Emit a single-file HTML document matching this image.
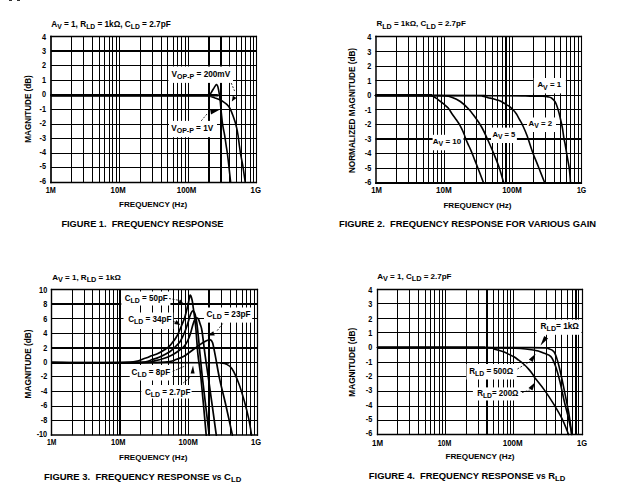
<!DOCTYPE html>
<html><head><meta charset="utf-8"><style>
html,body{margin:0;padding:0;background:#fff;}
svg{display:block;}
text{font-family:'Liberation Sans', Arial, sans-serif;fill:#000;}
</style></head><body>
<svg width="620" height="496" viewBox="0 0 620 496">
<rect width="620" height="496" fill="#fff"/>
<rect x="9" y="0" width="3" height="1" fill="#333"/><rect x="17" y="0" width="3" height="1" fill="#333"/>
<line x1="71.5" y1="36.4" x2="71.5" y2="182.3" stroke="#000" stroke-width="1.0"/>
<line x1="83.5" y1="36.4" x2="83.5" y2="182.3" stroke="#000" stroke-width="1.0"/>
<line x1="92.5" y1="36.4" x2="92.5" y2="182.3" stroke="#000" stroke-width="1.0"/>
<line x1="99.5" y1="36.4" x2="99.5" y2="182.3" stroke="#000" stroke-width="1.0"/>
<line x1="104.5" y1="36.4" x2="104.5" y2="182.3" stroke="#000" stroke-width="1.0"/>
<line x1="109.5" y1="36.4" x2="109.5" y2="182.3" stroke="#000" stroke-width="1.0"/>
<line x1="112.5" y1="36.4" x2="112.5" y2="182.3" stroke="#000" stroke-width="1.0"/>
<line x1="116.5" y1="36.4" x2="116.5" y2="182.3" stroke="#000" stroke-width="1.0"/>
<line x1="119.5" y1="36.4" x2="119.5" y2="182.3" stroke="#000" stroke-width="1.0"/>
<line x1="140.5" y1="36.4" x2="140.5" y2="182.3" stroke="#000" stroke-width="1.0"/>
<line x1="152.5" y1="36.4" x2="152.5" y2="182.3" stroke="#000" stroke-width="1.0"/>
<line x1="161.5" y1="36.4" x2="161.5" y2="182.3" stroke="#000" stroke-width="1.0"/>
<line x1="167.5" y1="36.4" x2="167.5" y2="182.3" stroke="#000" stroke-width="1.0"/>
<line x1="173.5" y1="36.4" x2="173.5" y2="182.3" stroke="#000" stroke-width="1.0"/>
<line x1="177.5" y1="36.4" x2="177.5" y2="182.3" stroke="#000" stroke-width="1.0"/>
<line x1="181.5" y1="36.4" x2="181.5" y2="182.3" stroke="#000" stroke-width="1.0"/>
<line x1="185.5" y1="36.4" x2="185.5" y2="182.3" stroke="#000" stroke-width="1.0"/>
<line x1="188.5" y1="36.4" x2="188.5" y2="182.3" stroke="#000" stroke-width="1.0"/>
<line x1="209" y1="36.4" x2="209" y2="182.3" stroke="#000" stroke-width="2.0"/>
<line x1="221" y1="36.4" x2="221" y2="182.3" stroke="#000" stroke-width="2.0"/>
<line x1="229.5" y1="36.4" x2="229.5" y2="182.3" stroke="#000" stroke-width="1.0"/>
<line x1="236.5" y1="36.4" x2="236.5" y2="182.3" stroke="#000" stroke-width="1.0"/>
<line x1="241.5" y1="36.4" x2="241.5" y2="182.3" stroke="#000" stroke-width="1.0"/>
<line x1="245.5" y1="36.4" x2="245.5" y2="182.3" stroke="#000" stroke-width="1.0"/>
<line x1="250.5" y1="36.4" x2="250.5" y2="182.3" stroke="#000" stroke-width="1.0"/>
<line x1="253.5" y1="36.4" x2="253.5" y2="182.3" stroke="#000" stroke-width="1.0"/>
<line x1="50.9" y1="51" x2="256.2" y2="51" stroke="#000" stroke-width="2.0"/>
<line x1="50.9" y1="65.5" x2="256.2" y2="65.5" stroke="#000" stroke-width="1.0"/>
<line x1="50.9" y1="80.5" x2="256.2" y2="80.5" stroke="#000" stroke-width="1.0"/>
<line x1="50.9" y1="95.5" x2="256.2" y2="95.5" stroke="#000" stroke-width="1.0"/>
<line x1="50.9" y1="109.5" x2="256.2" y2="109.5" stroke="#000" stroke-width="1.0"/>
<line x1="50.9" y1="124.5" x2="256.2" y2="124.5" stroke="#000" stroke-width="1.0"/>
<line x1="50.9" y1="138.5" x2="256.2" y2="138.5" stroke="#000" stroke-width="1.0"/>
<line x1="50.9" y1="153.5" x2="256.2" y2="153.5" stroke="#000" stroke-width="1.0"/>
<line x1="50.9" y1="167.5" x2="256.2" y2="167.5" stroke="#000" stroke-width="1.0"/>
<line x1="51" y1="35.85" x2="51" y2="183.15" stroke="#000" stroke-width="1.7"/>
<line x1="256.5" y1="35.85" x2="256.5" y2="183.15" stroke="#000" stroke-width="1.1"/>
<line x1="50.15" y1="36.5" x2="257.05" y2="36.5" stroke="#000" stroke-width="1.3"/>
<line x1="50.15" y1="182.5" x2="257.05" y2="182.5" stroke="#000" stroke-width="1.3"/>
<text x="41.94" y="39.6" font-size="8.3" text-anchor="start" font-weight="bold" textLength="4.06" lengthAdjust="spacingAndGlyphs">4</text>
<text x="41.94" y="54.02" font-size="8.3" text-anchor="start" font-weight="bold" textLength="4.06" lengthAdjust="spacingAndGlyphs">3</text>
<text x="41.94" y="68.44" font-size="8.3" text-anchor="start" font-weight="bold" textLength="4.06" lengthAdjust="spacingAndGlyphs">2</text>
<text x="41.94" y="82.86" font-size="8.3" text-anchor="start" font-weight="bold" textLength="4.06" lengthAdjust="spacingAndGlyphs">1</text>
<text x="41.94" y="97.28" font-size="8.3" text-anchor="start" font-weight="bold" textLength="4.06" lengthAdjust="spacingAndGlyphs">0</text>
<text x="39.51" y="111.7" font-size="8.3" text-anchor="start" font-weight="bold" textLength="6.49" lengthAdjust="spacingAndGlyphs">-1</text>
<text x="39.51" y="126.12" font-size="8.3" text-anchor="start" font-weight="bold" textLength="6.49" lengthAdjust="spacingAndGlyphs">-2</text>
<text x="39.51" y="140.54" font-size="8.3" text-anchor="start" font-weight="bold" textLength="6.49" lengthAdjust="spacingAndGlyphs">-3</text>
<text x="39.51" y="154.96" font-size="8.3" text-anchor="start" font-weight="bold" textLength="6.49" lengthAdjust="spacingAndGlyphs">-4</text>
<text x="39.51" y="169.38" font-size="8.3" text-anchor="start" font-weight="bold" textLength="6.49" lengthAdjust="spacingAndGlyphs">-5</text>
<text x="39.51" y="183.8" font-size="8.3" text-anchor="start" font-weight="bold" textLength="6.49" lengthAdjust="spacingAndGlyphs">-6</text>
<text x="0" y="0" font-size="8.6" text-anchor="middle" font-weight="bold" textLength="67.4" lengthAdjust="spacingAndGlyphs" transform="translate(31.3,109) rotate(-90)">MAGNITUDE (dB)</text>
<line x1="50.9" y1="95.35" x2="209" y2="95.35" stroke="#000" stroke-width="2.7"/>
<path d="M50.9,94.9 C76.58,94.9 178.57,94.95 205,94.9 C231.43,94.85 208.33,95.22 209.5,94.6 C210.67,93.98 211.22,92.37 212,91.2 C212.78,90.03 213.47,88.72 214.2,87.6 C214.93,86.48 215.82,84.73 216.4,84.5 C216.98,84.27 217.33,85.28 217.7,86.2 C218.07,87.12 218.3,88.45 218.6,90 C218.9,91.55 219.22,93.5 219.5,95.5 C219.78,97.5 220.07,99.82 220.3,102 C220.53,104.18 220.68,106.35 220.9,108.6 C221.12,110.85 221.37,113.23 221.6,115.5 C221.83,117.77 222.02,120.03 222.3,122.2 C222.58,124.37 222.92,126.37 223.3,128.5 C223.68,130.63 224.13,132.23 224.6,135 C225.07,137.77 225.6,141.73 226.1,145.1 C226.6,148.47 227.1,151.33 227.6,155.2 C228.1,159.07 228.6,163.83 229.1,168.3 C229.6,172.77 230.35,179.72 230.6,182" fill="none" stroke="#000" stroke-width="1.6" stroke-linejoin="round" stroke-linecap="round"/>
<path d="M50.9,95.5 C76.58,95.5 178.48,95.38 205,95.5 C231.52,95.62 208.33,95.8 210,96.2 C211.67,96.6 213.27,97.27 215,97.9 C216.73,98.53 218.88,99.27 220.4,100 C221.92,100.73 223.03,101.58 224.1,102.3 C225.17,103.02 225.97,103.52 226.8,104.3 C227.63,105.08 228.35,105.83 229.1,107 C229.85,108.17 230.63,109.82 231.3,111.3 C231.97,112.78 232.5,114.23 233.1,115.9 C233.7,117.57 234.32,119.35 234.9,121.3 C235.48,123.25 236.08,125.32 236.6,127.6 C237.12,129.88 237.55,132.1 238,135 C238.45,137.9 238.83,141.63 239.3,145 C239.77,148.37 240.23,151.83 240.8,155.2 C241.37,158.57 241.97,160.73 242.7,165.2 C243.43,169.67 244.78,179.2 245.2,182" fill="none" stroke="#000" stroke-width="1.6" stroke-linejoin="round" stroke-linecap="round"/>
<rect x="168.4" y="66.5" width="64.6" height="16.4" fill="#fff"/>
<rect x="169" y="120.9" width="48" height="16.3" fill="#fff"/>
<line x1="231.2" y1="83" x2="234.6" y2="91" stroke="#000" stroke-width="0.8" stroke-dasharray="2,1.5"/>
<path d="M231.8,101.5 L232.82,95.66 L236.56,97.98 Z" fill="#000"/>
<line x1="201.2" y1="120.9" x2="207.4" y2="113.5" stroke="#000" stroke-width="0.8" stroke-dasharray="2,1.5"/>
<path d="M210.2,109.6 L220,109.6 L211,114.6 Z" fill="#000"/>
<line x1="396.5" y1="36.5" x2="396.5" y2="182.7" stroke="#000" stroke-width="1.0"/>
<line x1="408.5" y1="36.5" x2="408.5" y2="182.7" stroke="#000" stroke-width="1.0"/>
<line x1="416.5" y1="36.5" x2="416.5" y2="182.7" stroke="#000" stroke-width="1.0"/>
<line x1="423.5" y1="36.5" x2="423.5" y2="182.7" stroke="#000" stroke-width="1.0"/>
<line x1="428.5" y1="36.5" x2="428.5" y2="182.7" stroke="#000" stroke-width="1.0"/>
<line x1="433.5" y1="36.5" x2="433.5" y2="182.7" stroke="#000" stroke-width="1.0"/>
<line x1="437.5" y1="36.5" x2="437.5" y2="182.7" stroke="#000" stroke-width="1.0"/>
<line x1="441.5" y1="36.5" x2="441.5" y2="182.7" stroke="#000" stroke-width="1.0"/>
<line x1="444.5" y1="36.5" x2="444.5" y2="182.7" stroke="#000" stroke-width="1.0"/>
<line x1="464.5" y1="36.5" x2="464.5" y2="182.7" stroke="#000" stroke-width="1.0"/>
<line x1="476.5" y1="36.5" x2="476.5" y2="182.7" stroke="#000" stroke-width="1.0"/>
<line x1="485.5" y1="36.5" x2="485.5" y2="182.7" stroke="#000" stroke-width="1.0"/>
<line x1="492.5" y1="36.5" x2="492.5" y2="182.7" stroke="#000" stroke-width="1.0"/>
<line x1="497.5" y1="36.5" x2="497.5" y2="182.7" stroke="#000" stroke-width="1.0"/>
<line x1="502.5" y1="36.5" x2="502.5" y2="182.7" stroke="#000" stroke-width="1.0"/>
<line x1="506" y1="36.5" x2="506" y2="182.7" stroke="#000" stroke-width="2.0"/>
<line x1="509.5" y1="36.5" x2="509.5" y2="182.7" stroke="#000" stroke-width="1.0"/>
<line x1="512.5" y1="36.5" x2="512.5" y2="182.7" stroke="#000" stroke-width="1.0"/>
<line x1="533.5" y1="36.5" x2="533.5" y2="182.7" stroke="#000" stroke-width="1.0"/>
<line x1="545.5" y1="36.5" x2="545.5" y2="182.7" stroke="#000" stroke-width="1.0"/>
<line x1="554.5" y1="36.5" x2="554.5" y2="182.7" stroke="#000" stroke-width="1.0"/>
<line x1="560.5" y1="36.5" x2="560.5" y2="182.7" stroke="#000" stroke-width="1.0"/>
<line x1="566.5" y1="36.5" x2="566.5" y2="182.7" stroke="#000" stroke-width="1.0"/>
<line x1="570.5" y1="36.5" x2="570.5" y2="182.7" stroke="#000" stroke-width="1.0"/>
<line x1="574.5" y1="36.5" x2="574.5" y2="182.7" stroke="#000" stroke-width="1.0"/>
<line x1="578.5" y1="36.5" x2="578.5" y2="182.7" stroke="#000" stroke-width="1.0"/>
<line x1="375.5" y1="51.5" x2="581.5" y2="51.5" stroke="#000" stroke-width="1.0"/>
<line x1="375.5" y1="66.5" x2="581.5" y2="66.5" stroke="#000" stroke-width="1.0"/>
<line x1="375.5" y1="80.5" x2="581.5" y2="80.5" stroke="#000" stroke-width="1.0"/>
<line x1="375.5" y1="95.5" x2="581.5" y2="95.5" stroke="#000" stroke-width="1.0"/>
<line x1="375.5" y1="109.5" x2="581.5" y2="109.5" stroke="#000" stroke-width="1.0"/>
<line x1="375.5" y1="124.5" x2="581.5" y2="124.5" stroke="#000" stroke-width="1.0"/>
<line x1="375.5" y1="139" x2="581.5" y2="139" stroke="#000" stroke-width="2.0"/>
<line x1="375.5" y1="153.5" x2="581.5" y2="153.5" stroke="#000" stroke-width="1.0"/>
<line x1="375.5" y1="168.5" x2="581.5" y2="168.5" stroke="#000" stroke-width="1.0"/>
<line x1="376" y1="35.85" x2="376" y2="184" stroke="#000" stroke-width="1.5"/>
<line x1="581.5" y1="35.85" x2="581.5" y2="184" stroke="#000" stroke-width="1.1"/>
<line x1="375.25" y1="36.5" x2="582.05" y2="36.5" stroke="#000" stroke-width="1.3"/>
<line x1="375.25" y1="183" x2="582.05" y2="183" stroke="#000" stroke-width="2.0"/>
<text x="367.14" y="40.4" font-size="8.3" text-anchor="start" font-weight="bold" textLength="4.06" lengthAdjust="spacingAndGlyphs">4</text>
<text x="367.14" y="54.86" font-size="8.3" text-anchor="start" font-weight="bold" textLength="4.06" lengthAdjust="spacingAndGlyphs">3</text>
<text x="367.14" y="69.32" font-size="8.3" text-anchor="start" font-weight="bold" textLength="4.06" lengthAdjust="spacingAndGlyphs">2</text>
<text x="367.14" y="83.78" font-size="8.3" text-anchor="start" font-weight="bold" textLength="4.06" lengthAdjust="spacingAndGlyphs">1</text>
<text x="367.14" y="98.24" font-size="8.3" text-anchor="start" font-weight="bold" textLength="4.06" lengthAdjust="spacingAndGlyphs">0</text>
<text x="364.71" y="112.7" font-size="8.3" text-anchor="start" font-weight="bold" textLength="6.49" lengthAdjust="spacingAndGlyphs">-1</text>
<text x="364.71" y="127.16" font-size="8.3" text-anchor="start" font-weight="bold" textLength="6.49" lengthAdjust="spacingAndGlyphs">-2</text>
<text x="364.71" y="141.62" font-size="8.3" text-anchor="start" font-weight="bold" textLength="6.49" lengthAdjust="spacingAndGlyphs">-3</text>
<text x="364.71" y="156.08" font-size="8.3" text-anchor="start" font-weight="bold" textLength="6.49" lengthAdjust="spacingAndGlyphs">-4</text>
<text x="364.71" y="170.54" font-size="8.3" text-anchor="start" font-weight="bold" textLength="6.49" lengthAdjust="spacingAndGlyphs">-5</text>
<text x="364.71" y="185" font-size="8.3" text-anchor="start" font-weight="bold" textLength="6.49" lengthAdjust="spacingAndGlyphs">-6</text>
<text x="0" y="0" font-size="8.6" text-anchor="middle" font-weight="bold" textLength="125.2" lengthAdjust="spacingAndGlyphs" transform="translate(355.1,110.5) rotate(-90)">NORMALIZED MAGNITUDE (dB)</text>
<line x1="375.5" y1="95.2" x2="432" y2="95.2" stroke="#000" stroke-width="2.6"/>
<path d="M375.5,95.5 C383.75,95.5 415.7,95.45 425,95.5 C434.3,95.55 429.45,95.37 431.3,95.8 C433.15,96.23 434.62,97.18 436.1,98.1 C437.58,99.02 438.85,100.23 440.2,101.3 C441.55,102.37 442.87,103.37 444.2,104.5 C445.53,105.63 446.85,106.48 448.2,108.1 C449.55,109.72 450.92,112.22 452.3,114.2 C453.68,116.18 455.27,118.23 456.5,120 C457.73,121.77 458.63,122.92 459.7,124.8 C460.77,126.68 461.97,129.15 462.9,131.3 C463.83,133.45 464.5,135.68 465.3,137.7 C466.1,139.72 466.75,141.25 467.7,143.4 C468.65,145.55 469.92,148.05 471,150.6 C472.08,153.15 473.23,156.27 474.2,158.7 C475.17,161.13 475.83,162.73 476.8,165.2 C477.77,167.67 478.88,170.57 480,173.5 C481.12,176.43 482.92,181.21 483.5,182.75" fill="none" stroke="#000" stroke-width="1.6" stroke-linejoin="round" stroke-linecap="round"/>
<path d="M375.5,95.5 C384.58,95.5 418.55,95.45 430,95.5 C441.45,95.55 440.48,95.48 444.2,95.8 C447.92,96.12 449.62,96.45 452.3,97.4 C454.98,98.35 457.62,99.62 460.3,101.5 C462.98,103.38 465.98,106.15 468.4,108.7 C470.82,111.25 472.65,113.83 474.8,116.8 C476.95,119.77 479.35,123.13 481.3,126.5 C483.25,129.87 484.52,132.7 486.5,137 C488.48,141.3 491.13,147.33 493.2,152.3 C495.27,157.27 497.15,161.73 498.9,166.8 C500.65,171.88 502.9,180.09 503.7,182.75" fill="none" stroke="#000" stroke-width="1.6" stroke-linejoin="round" stroke-linecap="round"/>
<path d="M375.5,95.5 C392.08,95.5 457.18,95.4 475,95.5 C492.82,95.6 480.22,95.73 482.4,96.1 C484.58,96.47 486.48,97.3 488.1,97.7 C489.72,98.1 490.77,98.17 492.1,98.5 C493.43,98.83 494.75,99.3 496.1,99.7 C497.45,100.1 498.85,100.3 500.2,100.9 C501.55,101.5 502.87,102.5 504.2,103.3 C505.53,104.1 506.85,104.75 508.2,105.7 C509.55,106.65 510.95,107.65 512.3,109 C513.65,110.35 515.1,112.05 516.3,113.8 C517.5,115.55 518.42,117.53 519.5,119.5 C520.58,121.47 521.55,122.93 522.8,125.6 C524.05,128.27 525.35,131.03 527,135.5 C528.65,139.97 530.82,147.23 532.7,152.4 C534.58,157.57 536.3,161.44 538.3,166.5 C540.3,171.56 543.63,180.04 544.7,182.75" fill="none" stroke="#000" stroke-width="1.6" stroke-linejoin="round" stroke-linecap="round"/>
<path d="M375.5,95.5 C396.25,95.53 474.25,95.6 500,95.7 C525.75,95.8 522.83,96 530,96.1 C537.17,96.2 540.02,96.17 543,96.3 C545.98,96.43 546.48,96.62 547.9,96.9 C549.32,97.18 550.28,97.17 551.5,98 C552.72,98.83 554.12,100.03 555.2,101.9 C556.28,103.77 557.17,106.53 558,109.2 C558.83,111.87 559.47,114.77 560.2,117.9 C560.93,121.03 561.78,124.62 562.4,128 C563.02,131.38 563.45,135.53 563.9,138.2 C564.35,140.87 564.55,140.92 565.1,144 C565.65,147.08 566.48,152.47 567.2,156.7 C567.92,160.93 568.85,165.06 569.4,169.4 C569.95,173.74 570.32,180.53 570.5,182.75" fill="none" stroke="#000" stroke-width="1.6" stroke-linejoin="round" stroke-linecap="round"/>
<rect x="533.8" y="78" width="32" height="15.4" fill="#fff"/>
<rect x="527" y="117.5" width="29" height="14.5" fill="#fff"/>
<rect x="491" y="127.6" width="25.9" height="15.4" fill="#fff"/>
<rect x="432.6" y="134.8" width="30.9" height="15.5" fill="#fff"/>
<line x1="72.5" y1="289.3" x2="72.5" y2="435.1" stroke="#000" stroke-width="1.0"/>
<line x1="84.5" y1="289.3" x2="84.5" y2="435.1" stroke="#000" stroke-width="1.0"/>
<line x1="92.5" y1="289.3" x2="92.5" y2="435.1" stroke="#000" stroke-width="1.0"/>
<line x1="99.5" y1="289.3" x2="99.5" y2="435.1" stroke="#000" stroke-width="1.0"/>
<line x1="105.5" y1="289.3" x2="105.5" y2="435.1" stroke="#000" stroke-width="1.0"/>
<line x1="109.5" y1="289.3" x2="109.5" y2="435.1" stroke="#000" stroke-width="1.0"/>
<line x1="113.5" y1="289.3" x2="113.5" y2="435.1" stroke="#000" stroke-width="1.0"/>
<line x1="117.5" y1="289.3" x2="117.5" y2="435.1" stroke="#000" stroke-width="1.0"/>
<line x1="120" y1="289.3" x2="120" y2="435.1" stroke="#000" stroke-width="2.0"/>
<line x1="140.5" y1="289.3" x2="140.5" y2="435.1" stroke="#000" stroke-width="1.0"/>
<line x1="152.5" y1="289.3" x2="152.5" y2="435.1" stroke="#000" stroke-width="1.0"/>
<line x1="161.5" y1="289.3" x2="161.5" y2="435.1" stroke="#000" stroke-width="1.0"/>
<line x1="168.5" y1="289.3" x2="168.5" y2="435.1" stroke="#000" stroke-width="1.0"/>
<line x1="173.5" y1="289.3" x2="173.5" y2="435.1" stroke="#000" stroke-width="1.0"/>
<line x1="178.5" y1="289.3" x2="178.5" y2="435.1" stroke="#000" stroke-width="1.0"/>
<line x1="181.5" y1="289.3" x2="181.5" y2="435.1" stroke="#000" stroke-width="1.0"/>
<line x1="185.5" y1="289.3" x2="185.5" y2="435.1" stroke="#000" stroke-width="1.0"/>
<line x1="188.5" y1="289.3" x2="188.5" y2="435.1" stroke="#000" stroke-width="1.0"/>
<line x1="209" y1="289.3" x2="209" y2="435.1" stroke="#000" stroke-width="2.0"/>
<line x1="221.5" y1="289.3" x2="221.5" y2="435.1" stroke="#000" stroke-width="1.0"/>
<line x1="230.5" y1="289.3" x2="230.5" y2="435.1" stroke="#000" stroke-width="1.0"/>
<line x1="236.5" y1="289.3" x2="236.5" y2="435.1" stroke="#000" stroke-width="1.0"/>
<line x1="242.5" y1="289.3" x2="242.5" y2="435.1" stroke="#000" stroke-width="1.0"/>
<line x1="246.5" y1="289.3" x2="246.5" y2="435.1" stroke="#000" stroke-width="1.0"/>
<line x1="250.5" y1="289.3" x2="250.5" y2="435.1" stroke="#000" stroke-width="1.0"/>
<line x1="254.5" y1="289.3" x2="254.5" y2="435.1" stroke="#000" stroke-width="1.0"/>
<line x1="51.6" y1="304" x2="257.1" y2="304" stroke="#000" stroke-width="2.0"/>
<line x1="51.6" y1="318.5" x2="257.1" y2="318.5" stroke="#000" stroke-width="1.0"/>
<line x1="51.6" y1="333.5" x2="257.1" y2="333.5" stroke="#000" stroke-width="1.0"/>
<line x1="51.6" y1="348" x2="257.1" y2="348" stroke="#000" stroke-width="2.0"/>
<line x1="51.6" y1="362.5" x2="257.1" y2="362.5" stroke="#000" stroke-width="1.0"/>
<line x1="51.6" y1="376.5" x2="257.1" y2="376.5" stroke="#000" stroke-width="1.0"/>
<line x1="51.6" y1="391.5" x2="257.1" y2="391.5" stroke="#000" stroke-width="1.0"/>
<line x1="51.6" y1="406.5" x2="257.1" y2="406.5" stroke="#000" stroke-width="1.0"/>
<line x1="51.6" y1="420.5" x2="257.1" y2="420.5" stroke="#000" stroke-width="1.0"/>
<line x1="51.5" y1="288.85" x2="51.5" y2="435.75" stroke="#000" stroke-width="1.4"/>
<line x1="257.5" y1="288.85" x2="257.5" y2="435.75" stroke="#000" stroke-width="1.2"/>
<line x1="50.8" y1="289.5" x2="258.1" y2="289.5" stroke="#000" stroke-width="1.3"/>
<line x1="50.8" y1="435" x2="258.1" y2="435" stroke="#000" stroke-width="1.5"/>
<text x="39.08" y="292.8" font-size="8.3" text-anchor="start" font-weight="bold" textLength="8.12" lengthAdjust="spacingAndGlyphs">10</text>
<text x="43.14" y="307.23" font-size="8.3" text-anchor="start" font-weight="bold" textLength="4.06" lengthAdjust="spacingAndGlyphs">8</text>
<text x="43.14" y="321.66" font-size="8.3" text-anchor="start" font-weight="bold" textLength="4.06" lengthAdjust="spacingAndGlyphs">6</text>
<text x="43.14" y="336.09" font-size="8.3" text-anchor="start" font-weight="bold" textLength="4.06" lengthAdjust="spacingAndGlyphs">4</text>
<text x="43.14" y="350.52" font-size="8.3" text-anchor="start" font-weight="bold" textLength="4.06" lengthAdjust="spacingAndGlyphs">2</text>
<text x="43.14" y="364.95" font-size="8.3" text-anchor="start" font-weight="bold" textLength="4.06" lengthAdjust="spacingAndGlyphs">0</text>
<text x="40.71" y="379.38" font-size="8.3" text-anchor="start" font-weight="bold" textLength="6.49" lengthAdjust="spacingAndGlyphs">-2</text>
<text x="40.71" y="393.81" font-size="8.3" text-anchor="start" font-weight="bold" textLength="6.49" lengthAdjust="spacingAndGlyphs">-4</text>
<text x="40.71" y="408.24" font-size="8.3" text-anchor="start" font-weight="bold" textLength="6.49" lengthAdjust="spacingAndGlyphs">-6</text>
<text x="40.71" y="422.67" font-size="8.3" text-anchor="start" font-weight="bold" textLength="6.49" lengthAdjust="spacingAndGlyphs">-8</text>
<text x="36.64" y="437.1" font-size="8.3" text-anchor="start" font-weight="bold" textLength="10.56" lengthAdjust="spacingAndGlyphs">-10</text>
<text x="0" y="0" font-size="8.6" text-anchor="middle" font-weight="bold" textLength="69" lengthAdjust="spacingAndGlyphs" transform="translate(31.4,363.9) rotate(-90)">MAGNITUDE (dB)</text>
<line x1="51.6" y1="362.7" x2="140" y2="362.7" stroke="#000" stroke-width="2.1"/>
<path d="M51.8,362.7 C79,362.7 186.8,362.62 215,362.7 C243.2,362.78 219.17,362.98 221,363.2 C222.83,363.42 224.17,363.07 226,364 C227.83,364.93 229.88,365.6 232,368.8 C234.12,372 236.65,377.83 238.7,383.2 C240.75,388.57 242.63,395.08 244.3,401 C245.97,406.92 247.48,413.02 248.7,418.7 C249.92,424.38 251.12,432.37 251.6,435.1" fill="none" stroke="#000" stroke-width="1.6" stroke-linejoin="round" stroke-linecap="round"/>
<path d="M51.8,362.7 C68.17,362.7 130.38,362.9 150,362.7 C169.62,362.5 165.17,362.03 169.5,361.5 C173.83,360.97 173.85,360.27 176,359.5 C178.15,358.73 180.82,357.62 182.4,356.9 C183.98,356.18 184.23,356.02 185.5,355.2 C186.77,354.38 188.42,353.17 190,352 C191.58,350.83 193.33,349.43 195,348.2 C196.67,346.97 198.33,345.72 200,344.6 C201.67,343.48 203.35,342.33 205,341.5 C206.65,340.67 208.65,339.43 209.9,339.6 C211.15,339.77 211.62,339.9 212.5,342.5 C213.38,345.1 214,349.05 215.2,355.2 C216.4,361.35 217.93,371.1 219.7,379.4 C221.47,387.7 223.68,395.72 225.8,405 C227.92,414.28 231.3,430.08 232.4,435.1" fill="none" stroke="#000" stroke-width="1.7" stroke-linejoin="round" stroke-linecap="round"/>
<path d="M51.8,362.7 C66.5,362.7 122.85,363.02 140,362.7 C157.15,362.38 150.63,361.53 154.7,360.8 C158.77,360.07 161.5,359.27 164.4,358.3 C167.3,357.33 169.95,356.08 172.1,355 C174.25,353.92 175.58,352.98 177.3,351.8 C179.02,350.62 181.08,349.03 182.4,347.9 C183.72,346.77 184.27,346.32 185.2,345 C186.13,343.68 187.12,341.92 188,340 C188.88,338.08 189.7,336 190.5,333.5 C191.3,331 192.08,327.33 192.8,325 C193.52,322.67 194.13,320.7 194.8,319.5 C195.47,318.3 196.17,317.8 196.8,317.8 C197.43,317.8 198.02,318.38 198.6,319.5 C199.18,320.62 199.73,322.58 200.3,324.5 C200.87,326.42 201.2,325.88 202,331 C202.8,336.12 204,347.13 205.1,355.2 C206.2,363.27 206.73,366.08 208.6,379.4 C210.47,392.72 215.02,425.82 216.3,435.1" fill="none" stroke="#000" stroke-width="1.7" stroke-linejoin="round" stroke-linecap="round"/>
<path d="M51.8,362.7 C65.67,362.7 118.18,363.25 135,362.7 C151.82,362.15 148.35,360.45 152.7,359.4 C157.05,358.35 158.62,357.45 161.1,356.4 C163.58,355.35 165.77,354.2 167.6,353.1 C169.43,352 170.7,350.98 172.1,349.8 C173.5,348.62 174.72,347.28 176,346 C177.28,344.72 178.63,343.77 179.8,342.1 C180.97,340.43 182.05,338.02 183,336 C183.95,333.98 184.63,332.33 185.5,330 C186.37,327.67 187.4,324.5 188.2,322 C189,319.5 189.67,316.75 190.3,315 C190.93,313.25 191.47,312.13 192,311.5 C192.53,310.87 193,310.78 193.5,311.2 C194,311.62 194.5,312.37 195,314 C195.5,315.63 195.95,317.33 196.5,321 C197.05,324.67 197.7,330.3 198.3,336 C198.9,341.7 199.38,347.97 200.1,355.2 C200.82,362.43 201.08,366.08 202.6,379.4 C204.12,392.72 208.1,425.82 209.2,435.1" fill="none" stroke="#000" stroke-width="1.7" stroke-linejoin="round" stroke-linecap="round"/>
<path d="M51.8,362.7 C64,362.7 109.47,363.43 125,362.7 C140.53,361.97 140.58,359.45 145,358.3 C149.42,357.15 149.35,356.58 151.5,355.8 C153.65,355.02 155.75,354.6 157.9,353.6 C160.05,352.6 162.57,350.97 164.4,349.8 C166.23,348.63 167.53,347.85 168.9,346.6 C170.27,345.35 171.45,343.73 172.6,342.3 C173.75,340.87 174.85,339.48 175.8,338 C176.75,336.52 177.3,335.57 178.3,333.4 C179.3,331.23 180.78,327.47 181.8,325 C182.82,322.53 183.58,321.1 184.4,318.6 C185.22,316.1 186.02,312.68 186.7,310 C187.38,307.32 187.93,304.97 188.5,302.5 C189.07,300.03 189.5,295.62 190.1,295.2 C190.7,294.78 191.57,297.85 192.1,300 C192.63,302.15 192.87,305.1 193.3,308.1 C193.73,311.1 194.25,314.35 194.7,318 C195.15,321.65 195.45,323.8 196,330 C196.55,336.2 197.15,346.97 198,355.2 C198.85,363.43 199.73,366.08 201.1,379.4 C202.47,392.72 205.35,425.82 206.2,435.1" fill="none" stroke="#000" stroke-width="1.7" stroke-linejoin="round" stroke-linecap="round"/>
<rect x="121.3" y="291.5" width="49.1" height="14" fill="#fff"/>
<rect x="123.5" y="312.5" width="49.7" height="16.5" fill="#fff"/>
<rect x="204" y="307.5" width="48.2" height="15.1" fill="#fff"/>
<rect x="129.7" y="365" width="42.6" height="15.5" fill="#fff"/>
<rect x="141.3" y="385" width="50.3" height="13.5" fill="#fff"/>
<line x1="169" y1="298.5" x2="180" y2="300.5" stroke="#000" stroke-width="0.8" stroke-dasharray="2,1.5"/>
<path d="M184,305 L177.96,302.9 L180.75,299.5 Z" fill="#000"/>
<line x1="173" y1="321.5" x2="176.5" y2="322.5" stroke="#000" stroke-width="0.8" stroke-dasharray="2,1.5"/>
<path d="M180.5,325 L174.21,323.88 L176.43,320.08 Z" fill="#000"/>
<line x1="222.7" y1="323.5" x2="216.5" y2="331.5" stroke="#000" stroke-width="0.8" stroke-dasharray="2,1.5"/>
<path d="M207.4,335.6 L213.27,331.15 L214.77,335.5 Z" fill="#000"/>
<line x1="172.7" y1="371.3" x2="185" y2="366" stroke="#000" stroke-width="0.8" stroke-dasharray="2,1.5"/>
<line x1="183.1" y1="383.1" x2="190.5" y2="377" stroke="#000" stroke-width="0.8" stroke-dasharray="2,1.5"/>
<path d="M193,365.5 L194.58,373.59 L190.58,373.38 Z" fill="#000"/>
<line x1="397.5" y1="289.3" x2="397.5" y2="434.4" stroke="#000" stroke-width="1.0"/>
<line x1="409.5" y1="289.3" x2="409.5" y2="434.4" stroke="#000" stroke-width="1.0"/>
<line x1="418.5" y1="289.3" x2="418.5" y2="434.4" stroke="#000" stroke-width="1.0"/>
<line x1="425.5" y1="289.3" x2="425.5" y2="434.4" stroke="#000" stroke-width="1.0"/>
<line x1="430.5" y1="289.3" x2="430.5" y2="434.4" stroke="#000" stroke-width="1.0"/>
<line x1="434.5" y1="289.3" x2="434.5" y2="434.4" stroke="#000" stroke-width="1.0"/>
<line x1="439.5" y1="289.3" x2="439.5" y2="434.4" stroke="#000" stroke-width="1.0"/>
<line x1="442.5" y1="289.3" x2="442.5" y2="434.4" stroke="#000" stroke-width="1.0"/>
<line x1="445.5" y1="289.3" x2="445.5" y2="434.4" stroke="#000" stroke-width="1.0"/>
<line x1="466.5" y1="289.3" x2="466.5" y2="434.4" stroke="#000" stroke-width="1.0"/>
<line x1="478.5" y1="289.3" x2="478.5" y2="434.4" stroke="#000" stroke-width="1.0"/>
<line x1="487" y1="289.3" x2="487" y2="434.4" stroke="#000" stroke-width="2.0"/>
<line x1="493.5" y1="289.3" x2="493.5" y2="434.4" stroke="#000" stroke-width="1.0"/>
<line x1="498.5" y1="289.3" x2="498.5" y2="434.4" stroke="#000" stroke-width="1.0"/>
<line x1="503.5" y1="289.3" x2="503.5" y2="434.4" stroke="#000" stroke-width="1.0"/>
<line x1="507.5" y1="289.3" x2="507.5" y2="434.4" stroke="#000" stroke-width="1.0"/>
<line x1="510.5" y1="289.3" x2="510.5" y2="434.4" stroke="#000" stroke-width="1.0"/>
<line x1="513.5" y1="289.3" x2="513.5" y2="434.4" stroke="#000" stroke-width="1.0"/>
<line x1="534.5" y1="289.3" x2="534.5" y2="434.4" stroke="#000" stroke-width="1.0"/>
<line x1="546.5" y1="289.3" x2="546.5" y2="434.4" stroke="#000" stroke-width="1.0"/>
<line x1="555.5" y1="289.3" x2="555.5" y2="434.4" stroke="#000" stroke-width="1.0"/>
<line x1="561.5" y1="289.3" x2="561.5" y2="434.4" stroke="#000" stroke-width="1.0"/>
<line x1="567.5" y1="289.3" x2="567.5" y2="434.4" stroke="#000" stroke-width="1.0"/>
<line x1="572.5" y1="289.3" x2="572.5" y2="434.4" stroke="#000" stroke-width="1.0"/>
<line x1="576" y1="289.3" x2="576" y2="434.4" stroke="#000" stroke-width="2.0"/>
<line x1="578.5" y1="289.3" x2="578.5" y2="434.4" stroke="#000" stroke-width="1.0"/>
<line x1="377.5" y1="303.5" x2="582.1" y2="303.5" stroke="#000" stroke-width="1.0"/>
<line x1="377.5" y1="318.5" x2="582.1" y2="318.5" stroke="#000" stroke-width="1.0"/>
<line x1="377.5" y1="332.5" x2="582.1" y2="332.5" stroke="#000" stroke-width="1.0"/>
<line x1="377.5" y1="347.5" x2="582.1" y2="347.5" stroke="#000" stroke-width="1.0"/>
<line x1="377.5" y1="362.5" x2="582.1" y2="362.5" stroke="#000" stroke-width="1.0"/>
<line x1="377.5" y1="376.5" x2="582.1" y2="376.5" stroke="#000" stroke-width="1.0"/>
<line x1="377.5" y1="391.5" x2="582.1" y2="391.5" stroke="#000" stroke-width="1.0"/>
<line x1="377.5" y1="406.5" x2="582.1" y2="406.5" stroke="#000" stroke-width="1.0"/>
<line x1="377.5" y1="420.5" x2="582.1" y2="420.5" stroke="#000" stroke-width="1.0"/>
<line x1="377.5" y1="288.85" x2="377.5" y2="435.2" stroke="#000" stroke-width="1.3"/>
<line x1="582.5" y1="288.85" x2="582.5" y2="435.2" stroke="#000" stroke-width="1.2"/>
<line x1="376.85" y1="289.5" x2="583.1" y2="289.5" stroke="#000" stroke-width="1.3"/>
<line x1="376.85" y1="434.5" x2="583.1" y2="434.5" stroke="#000" stroke-width="1.4"/>
<text x="368.24" y="293.1" font-size="8.3" text-anchor="start" font-weight="bold" textLength="4.06" lengthAdjust="spacingAndGlyphs">4</text>
<text x="368.24" y="307.42" font-size="8.3" text-anchor="start" font-weight="bold" textLength="4.06" lengthAdjust="spacingAndGlyphs">3</text>
<text x="368.24" y="321.74" font-size="8.3" text-anchor="start" font-weight="bold" textLength="4.06" lengthAdjust="spacingAndGlyphs">2</text>
<text x="368.24" y="336.06" font-size="8.3" text-anchor="start" font-weight="bold" textLength="4.06" lengthAdjust="spacingAndGlyphs">1</text>
<text x="368.24" y="350.38" font-size="8.3" text-anchor="start" font-weight="bold" textLength="4.06" lengthAdjust="spacingAndGlyphs">0</text>
<text x="365.81" y="364.7" font-size="8.3" text-anchor="start" font-weight="bold" textLength="6.49" lengthAdjust="spacingAndGlyphs">-1</text>
<text x="365.81" y="379.02" font-size="8.3" text-anchor="start" font-weight="bold" textLength="6.49" lengthAdjust="spacingAndGlyphs">-2</text>
<text x="365.81" y="393.34" font-size="8.3" text-anchor="start" font-weight="bold" textLength="6.49" lengthAdjust="spacingAndGlyphs">-3</text>
<text x="365.81" y="407.66" font-size="8.3" text-anchor="start" font-weight="bold" textLength="6.49" lengthAdjust="spacingAndGlyphs">-4</text>
<text x="365.81" y="421.98" font-size="8.3" text-anchor="start" font-weight="bold" textLength="6.49" lengthAdjust="spacingAndGlyphs">-5</text>
<text x="365.81" y="436.3" font-size="8.3" text-anchor="start" font-weight="bold" textLength="6.49" lengthAdjust="spacingAndGlyphs">-6</text>
<text x="0" y="0" font-size="8.6" text-anchor="middle" font-weight="bold" textLength="69" lengthAdjust="spacingAndGlyphs" transform="translate(355.4,362.2) rotate(-90)">MAGNITUDE (dB)</text>
<line x1="377.5" y1="347.6" x2="485" y2="347.6" stroke="#000" stroke-width="2.4"/>
<path d="M377.5,347.6 C395.42,347.6 465.5,347.33 485,347.6 C504.5,347.87 491.3,348.47 494.5,349.2 C497.7,349.93 501.78,351.13 504.2,352 C506.62,352.87 507.38,353.6 509,354.4 C510.62,355.2 512.28,355.83 513.9,356.8 C515.52,357.77 517.08,359 518.7,360.2 C520.32,361.4 521.98,362.55 523.6,364 C525.22,365.45 526.95,367.28 528.4,368.9 C529.85,370.52 531.1,372.05 532.3,373.7 C533.5,375.35 533.6,376.1 535.6,378.8 C537.6,381.5 541.38,385.83 544.3,389.9 C547.22,393.97 550.15,398.4 553.1,403.2 C556.05,408 559.42,413.49 562,418.7 C564.58,423.91 567.5,431.82 568.6,434.45" fill="none" stroke="#000" stroke-width="1.6" stroke-linejoin="round" stroke-linecap="round"/>
<path d="M377.5,347.6 C397.92,347.65 474.05,347.5 500,347.9 C525.95,348.3 525.82,349.1 533.2,350 C540.58,350.9 541.35,352.2 544.3,353.3 C547.25,354.4 549.07,354.57 550.9,356.6 C552.73,358.63 553.82,361.43 555.3,365.5 C556.78,369.57 558.32,375.08 559.8,381 C561.28,386.92 562.73,394.72 564.2,401 C565.67,407.28 567.3,413.12 568.6,418.7 C569.9,424.27 571.43,431.82 572,434.45" fill="none" stroke="#000" stroke-width="1.6" stroke-linejoin="round" stroke-linecap="round"/>
<path d="M377.5,347.6 C402.92,347.6 501.47,347.4 530,347.6 C558.53,347.8 544.67,348.03 548.7,348.8 C552.73,349.57 552.72,350.17 554.2,352.2 C555.68,354.23 556.48,357.32 557.6,361 C558.72,364.68 559.8,369.48 560.9,374.3 C562,379.12 562.92,383.62 564.2,389.9 C565.48,396.18 567.48,405.72 568.6,412 C569.72,418.28 570.42,423.86 570.9,427.6 C571.38,431.34 571.4,433.31 571.5,434.45" fill="none" stroke="#000" stroke-width="1.6" stroke-linejoin="round" stroke-linecap="round"/>
<rect x="536.5" y="319.6" width="44.9" height="15.2" fill="#fff"/>
<rect x="466.5" y="364" width="50.3" height="15.5" fill="#fff"/>
<rect x="472.9" y="387.4" width="47.7" height="13.1" fill="#fff"/>
<path d="M540.5,345.5 L544.17,335.89 L548.13,338.6 Z" fill="#000"/>
<line x1="517.4" y1="369" x2="529.8" y2="361.5" stroke="#000" stroke-width="0.8" stroke-dasharray="2,1.5"/>
<path d="M535.6,353.7 L532.8,362.08 L528.84,359.38 Z" fill="#000"/>
<line x1="522" y1="392.6" x2="529.7" y2="390" stroke="#000" stroke-width="0.8" stroke-dasharray="2,1.5"/>
<path d="M535.2,382.2 L532.48,390.6 L528.49,387.94 Z" fill="#000"/>
<text x="51.2" y="27.1" font-size="8.2" font-weight="bold" textLength="119.49" lengthAdjust="spacingAndGlyphs"><tspan>A</tspan><tspan font-size="6.72" dy="1.7">V</tspan><tspan dy="-1.7"> = 1, R</tspan><tspan font-size="6.72" dy="1.7">LD</tspan><tspan dy="-1.7"> = 1kΩ, C</tspan><tspan font-size="6.72" dy="1.7">LD</tspan><tspan dy="-1.7"> = 2.7pF</tspan></text>
<text x="45.81" y="192.7" font-size="8.3" font-weight="bold" textLength="10.03" lengthAdjust="spacingAndGlyphs"><tspan>1M</tspan></text>
<text x="110.6" y="192.8" font-size="8.3" font-weight="bold" textLength="15.05" lengthAdjust="spacingAndGlyphs"><tspan>10M</tspan></text>
<text x="176.79" y="192.8" font-size="8.3" font-weight="bold" textLength="19.59" lengthAdjust="spacingAndGlyphs"><tspan>100M</tspan></text>
<text x="250.61" y="192.8" font-size="8.3" font-weight="bold" textLength="10.38" lengthAdjust="spacingAndGlyphs"><tspan>1G</tspan></text>
<text x="119" y="206.9" font-size="8.1" font-weight="bold" textLength="68.2" lengthAdjust="spacingAndGlyphs"><tspan>FREQUENCY (Hz)</tspan></text>
<text x="61.4" y="227" font-size="9.3" font-weight="bold" textLength="162.08" lengthAdjust="spacingAndGlyphs"><tspan>FIGURE 1.  FREQUENCY RESPONSE</tspan></text>
<text x="171.6" y="76.5" font-size="8.2" font-weight="bold" textLength="58.53" lengthAdjust="spacingAndGlyphs"><tspan>V</tspan><tspan font-size="7.0" dy="2.2">OP-P</tspan><tspan dy="-2.2"> = 200mV</tspan></text>
<text x="171.2" y="130.5" font-size="8.2" font-weight="bold" textLength="42.06" lengthAdjust="spacingAndGlyphs"><tspan>V</tspan><tspan font-size="7.0" dy="2.2">OP-P</tspan><tspan dy="-2.2"> = 1V</tspan></text>
<text x="376.41" y="26.4" font-size="7.4" font-weight="bold" textLength="89.36" lengthAdjust="spacingAndGlyphs"><tspan>R</tspan><tspan font-size="6.6" dy="2.2">LD</tspan><tspan dy="-2.2"> = 1kΩ, C</tspan><tspan font-size="6.6" dy="2.2">LD</tspan><tspan dy="-2.2"> = 2.7pF</tspan></text>
<text x="371.17" y="193" font-size="8.3" font-weight="bold" textLength="10.7" lengthAdjust="spacingAndGlyphs"><tspan>1M</tspan></text>
<text x="436" y="193" font-size="8.3" font-weight="bold" textLength="15.84" lengthAdjust="spacingAndGlyphs"><tspan>10M</tspan></text>
<text x="502.22" y="193" font-size="8.3" font-weight="bold" textLength="19.69" lengthAdjust="spacingAndGlyphs"><tspan>100M</tspan></text>
<text x="577" y="193" font-size="8.3" font-weight="bold" textLength="9.29" lengthAdjust="spacingAndGlyphs"><tspan>1G</tspan></text>
<text x="443.39" y="207.6" font-size="8.1" font-weight="bold" textLength="68.11" lengthAdjust="spacingAndGlyphs"><tspan>FREQUENCY (Hz)</tspan></text>
<text x="339" y="227" font-size="9.3" font-weight="bold" textLength="257.06" lengthAdjust="spacingAndGlyphs"><tspan>FIGURE 2.  FREQUENCY RESPONSE FOR VARIOUS GAIN</tspan></text>
<text x="537.4" y="87.3" font-size="8.0" font-weight="bold" textLength="23.73" lengthAdjust="spacingAndGlyphs"><tspan>A</tspan><tspan font-size="7.0" dy="2.2">V</tspan><tspan dy="-2.2"> = 1</tspan></text>
<text x="528.61" y="125.9" font-size="8.0" font-weight="bold" textLength="23.54" lengthAdjust="spacingAndGlyphs"><tspan>A</tspan><tspan font-size="7.0" dy="2.2">V</tspan><tspan dy="-2.2"> = 2</tspan></text>
<text x="492.41" y="136.9" font-size="8.0" font-weight="bold" textLength="22.95" lengthAdjust="spacingAndGlyphs"><tspan>A</tspan><tspan font-size="7.0" dy="2.2">V</tspan><tspan dy="-2.2"> = 5</tspan></text>
<text x="432.79" y="143.8" font-size="8.0" font-weight="bold" textLength="28.31" lengthAdjust="spacingAndGlyphs"><tspan>A</tspan><tspan font-size="7.0" dy="2.2">V</tspan><tspan dy="-2.2"> = 10</tspan></text>
<text x="52.2" y="280.1" font-size="8.0" font-weight="bold" textLength="68.64" lengthAdjust="spacingAndGlyphs"><tspan>A</tspan><tspan font-size="7.3" dy="2">V</tspan><tspan dy="-2"> = 1, R</tspan><tspan font-size="7.3" dy="2">LD</tspan><tspan dy="-2"> = 1kΩ</tspan></text>
<text x="47" y="444.9" font-size="8.3" font-weight="bold" textLength="9.32" lengthAdjust="spacingAndGlyphs"><tspan>1M</tspan></text>
<text x="111" y="444.9" font-size="8.3" font-weight="bold" textLength="14.53" lengthAdjust="spacingAndGlyphs"><tspan>10M</tspan></text>
<text x="178.61" y="444.9" font-size="8.3" font-weight="bold" textLength="19.19" lengthAdjust="spacingAndGlyphs"><tspan>100M</tspan></text>
<text x="251" y="445" font-size="8.3" font-weight="bold" textLength="10.07" lengthAdjust="spacingAndGlyphs"><tspan>1G</tspan></text>
<text x="119" y="459.9" font-size="8.1" font-weight="bold" textLength="68.41" lengthAdjust="spacingAndGlyphs"><tspan>FREQUENCY (Hz)</tspan></text>
<text x="44" y="479.9" font-size="9.3" font-weight="bold" textLength="197.24" lengthAdjust="spacingAndGlyphs"><tspan>FIGURE 3.  FREQUENCY RESPONSE </tspan><tspan font-size="8.18">vs</tspan><tspan> C</tspan><tspan font-size="7.63" dy="1.7">LD</tspan></text>
<text x="124.8" y="300.6" font-size="8.2" font-weight="bold" textLength="42.93" lengthAdjust="spacingAndGlyphs"><tspan>C</tspan><tspan font-size="7.0" dy="2.2">LD</tspan><tspan dy="-2.2"> = 50pF</tspan></text>
<text x="128.2" y="321.6" font-size="8.2" font-weight="bold" textLength="43.33" lengthAdjust="spacingAndGlyphs"><tspan>C</tspan><tspan font-size="7.0" dy="2.2">LD</tspan><tspan dy="-2.2"> = 34pF</tspan></text>
<text x="206.6" y="316.9" font-size="8.2" font-weight="bold" textLength="43.93" lengthAdjust="spacingAndGlyphs"><tspan>C</tspan><tspan font-size="7.0" dy="2.2">LD</tspan><tspan dy="-2.2"> = 23pF</tspan></text>
<text x="131.6" y="375.2" font-size="8.2" font-weight="bold" textLength="38.57" lengthAdjust="spacingAndGlyphs"><tspan>C</tspan><tspan font-size="7.0" dy="2.2">LD</tspan><tspan dy="-2.2"> = 8pF</tspan></text>
<text x="144.99" y="394.5" font-size="8.2" font-weight="bold" textLength="45.41" lengthAdjust="spacingAndGlyphs"><tspan>C</tspan><tspan font-size="7.0" dy="2.2">LD</tspan><tspan dy="-2.2"> = 2.7pF</tspan></text>
<text x="377.2" y="278.7" font-size="8.0" font-weight="bold" textLength="74.32" lengthAdjust="spacingAndGlyphs"><tspan>A</tspan><tspan font-size="7.3" dy="2">V</tspan><tspan dy="-2"> = 1, C</tspan><tspan font-size="7.3" dy="2">LD</tspan><tspan dy="-2"> = 2.7pF</tspan></text>
<text x="372" y="445.7" font-size="8.3" font-weight="bold" textLength="11" lengthAdjust="spacingAndGlyphs"><tspan>1M</tspan></text>
<text x="437.66" y="445.7" font-size="8.3" font-weight="bold" textLength="13.67" lengthAdjust="spacingAndGlyphs"><tspan>10M</tspan></text>
<text x="502.79" y="445.7" font-size="8.3" font-weight="bold" textLength="19.89" lengthAdjust="spacingAndGlyphs"><tspan>100M</tspan></text>
<text x="577" y="445.9" font-size="8.3" font-weight="bold" textLength="10.07" lengthAdjust="spacingAndGlyphs"><tspan>1G</tspan></text>
<text x="445.4" y="459.2" font-size="8.1" font-weight="bold" textLength="69.11" lengthAdjust="spacingAndGlyphs"><tspan>FREQUENCY (Hz)</tspan></text>
<text x="368.8" y="479" font-size="9.3" font-weight="bold" textLength="196.44" lengthAdjust="spacingAndGlyphs"><tspan>FIGURE 4.  FREQUENCY RESPONSE </tspan><tspan font-size="8.18">vs</tspan><tspan> R</tspan><tspan font-size="7.63" dy="1.7">LD</tspan></text>
<text x="540.6" y="328.6" font-size="8.2" font-weight="bold" textLength="38.41" lengthAdjust="spacingAndGlyphs"><tspan>R</tspan><tspan font-size="7.0" dy="2.2">LD</tspan><tspan dy="-2.2">= 1kΩ</tspan></text>
<text x="469.2" y="373.9" font-size="8.2" font-weight="bold" textLength="43.94" lengthAdjust="spacingAndGlyphs"><tspan>R</tspan><tspan font-size="7.0" dy="2.2">LD</tspan><tspan dy="-2.2"> = 500Ω</tspan></text>
<text x="477.2" y="395.8" font-size="8.2" font-weight="bold" textLength="41.26" lengthAdjust="spacingAndGlyphs"><tspan>R</tspan><tspan font-size="7.0" dy="2.2">LD</tspan><tspan dy="-2.2">= 200Ω</tspan></text>
</svg>
</body></html>
